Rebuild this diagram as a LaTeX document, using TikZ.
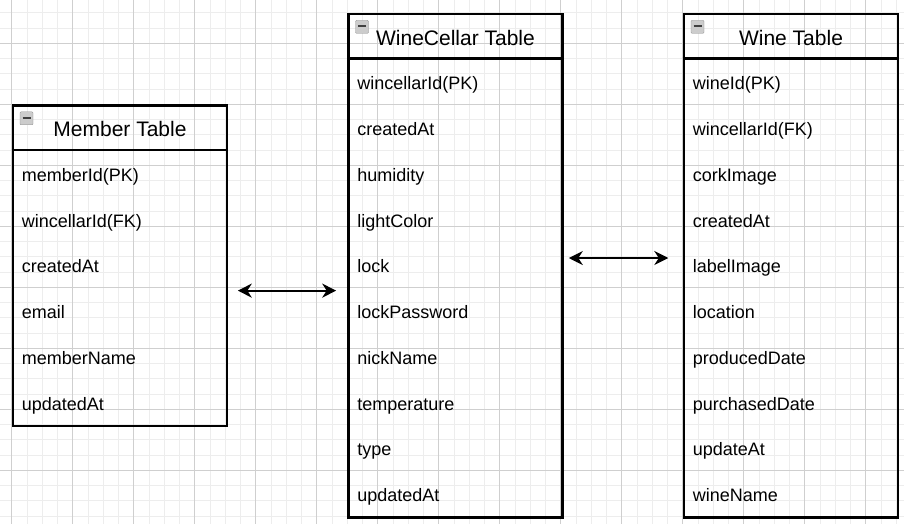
\documentclass[tikz,border=0pt]{standalone}
\usepackage{fontspec}
\setmainfont{Liberation Sans}
\usetikzlibrary{arrows.meta}

\tikzset{
	minorline/.style={draw=black!7, line width=0.9pt},
	majorline/.style={draw=black!19, line width=0.9pt},
	tablebox/.style={rectangle, draw, line width=2.6pt, inner sep=0pt, anchor=north west, minimum width=214pt},
	headtext/.style={font=\fontsize{21}{24}\selectfont, anchor=base, inner sep=0pt},
	rowtext/.style={font=\fontsize{18}{21}\selectfont, anchor=base west, inner sep=0pt},
	iconbox/.style={rectangle, draw=black!45, fill=black!20, minimum size=13pt, inner sep=0pt, rounded corners=1pt,
		path picture={\draw[line width=1.8pt, black!75] ([xshift=2.5pt,yshift=0.5pt]path picture bounding box.west) -- ([xshift=-2.5pt,yshift=0.5pt]path picture bounding box.east);}},
	relarrow/.style={{Stealth[length=14pt,width=14pt,inset=4.5pt]}-{Stealth[length=14pt,width=14pt,inset=4.5pt]}, line width=1.8pt},
}

\begin{document}
\begin{tikzpicture}[x=1pt,y=-1pt]
	\useasboundingbox (0,0) rectangle (904,524);
	% background grid
	\foreach \k in {-1,...,59}
		\draw[minorline] ({11.7+15.25*\k},0) -- ({11.7+15.25*\k},524);
	\foreach \k in {-1,...,34}
		\draw[minorline] (0,{12.8+15.25*\k}) -- (904,{12.8+15.25*\k});
	\foreach \k in {0,4,...,56}
		\draw[majorline] ({11.7+15.25*\k},0) -- ({11.7+15.25*\k},524);
	\foreach \k in {2,6,...,34}
		\draw[majorline] (0,{12.8+15.25*\k}) -- (904,{12.8+15.25*\k});

	% tables
	\node[tablebox, minimum height=320.25pt] (member) at (11.7,104.3) {};
	\node[tablebox, minimum height=503.25pt] (cellar) at (347.2,12.8) {};
	\node[tablebox, minimum height=503.25pt] (wine) at (682.7,12.8) {};

	\foreach \t/\title in {member/Member Table, cellar/WineCellar Table, wine/Wine Table}{
		\draw[line width=2.6pt] ([yshift=-45.75pt]\t.north west) -- ([yshift=-45.75pt]\t.north east);
		\node[iconbox] (\t-icon) at ([xshift=14.8pt,yshift=-14pt]\t.north west) {};
		\node[headtext] (\t-title) at ([yshift=-32.3pt]\t.north) {\title};
	}

	% rows
	\foreach \txt [count=\i] in {memberId(PK), wincellarId(FK), createdAt, email, memberName, updatedAt}
		\node[rowtext] (member-\i) at ([xshift=10pt,yshift={-45.75pt-(\i-0.5)*45.75pt-8.5pt}]member.north west) {\txt};
	\foreach \txt [count=\i] in {wincellarId(PK), createdAt, humidity, lightColor, lock, lockPassword, nickName, temperature, type, updatedAt}
		\node[rowtext] (cellar-\i) at ([xshift=10pt,yshift={-45.75pt-(\i-0.5)*45.75pt-8.5pt}]cellar.north west) {\txt};
	\foreach \txt [count=\i] in {wineId(PK), wincellarId(FK), corkImage, createdAt, labelImage, location, producedDate, purchasedDate, updateAt, wineName}
		\node[rowtext] (wine-\i) at ([xshift=10pt,yshift={-45.75pt-(\i-0.5)*45.75pt-8.5pt}]wine.north west) {\txt};

	% relations
	\draw[relarrow] ([xshift=9.5pt,yshift=-24.9pt]member.east) -- ([xshift=-11pt,yshift=-24.9pt]cellar.west);
	\draw[relarrow] ([xshift=5pt,yshift=7.7pt]cellar.east) -- ([xshift=-14.4pt,yshift=7.7pt]wine.west);
\end{tikzpicture}
\end{document}
